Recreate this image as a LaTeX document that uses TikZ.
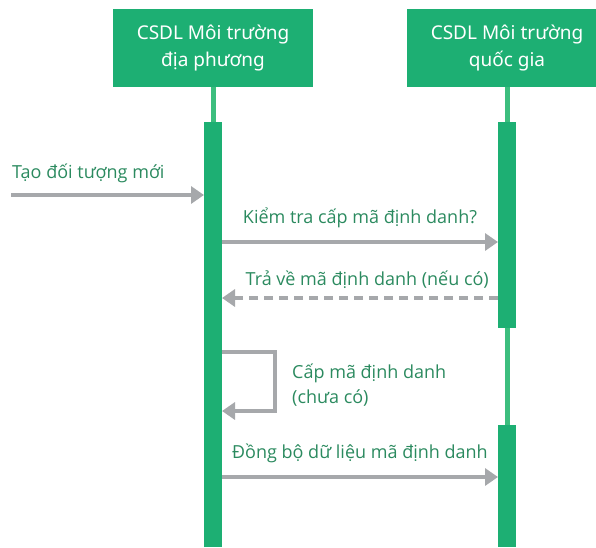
\documentclass[tikz,border=0pt]{standalone}
\usepackage{fontspec}
\setmainfont{Noto Sans}
\newfontfamily\labelfont{Open Sans}
\usetikzlibrary{arrows.meta}
\definecolor{boxgreen}{HTML}{1DAF73}
\definecolor{linegreen}{HTML}{3CBE7E}
\definecolor{textgreen}{HTML}{2B8A5F}
\definecolor{arrowgray}{HTML}{A6A8AB}
\tikzset{
  header/.style={fill=boxgreen, draw=none, minimum width=200pt, minimum height=78pt,
    text=white, align=center, font=\fontsize{19}{27.5}\selectfont, inner sep=0pt},
  lifeline/.style={draw=linegreen, line width=5pt},
  activebar/.style={fill=boxgreen, draw=none},
  msg/.style={draw=arrowgray, line width=4pt, -{Triangle[length=13pt,width=17pt]}},
  reply/.style={msg, dash pattern=on 9pt off 6pt},
  msglabel/.style={text=textgreen, font=\labelfont\fontsize{18}{25}\selectfont, inner sep=0pt}
}
\begin{document}
\begin{tikzpicture}[x=1pt, y=-1pt]
\useasboundingbox (0,0) rectangle (596,547);
\clip (0,0) rectangle (596,547);
% participants
\node[header] (loc) at (213,48) {CSDL Môi trường\\địa phương};
\node[header] (nat) at (507,48) {CSDL Môi trường\\quốc gia};
% lifelines
\draw[lifeline] (loc.south) -- (213,547);
\draw[lifeline] (nat.south) -- (507,547);
% activation bars
\path[activebar] (204,122) rectangle (222,547);
\path[activebar] (498,122) rectangle (516,328);
\path[activebar] (498,425) rectangle (516,547);
% anchor points on the bars
\coordinate (start) at (11,195);
\coordinate (l1) at (204,195);
\coordinate (l2) at (222,242);
\coordinate (r2) at (498,242);
\coordinate (r3) at (498,298);
\coordinate (l3) at (222,298);
\coordinate (s1) at (222,352);
\coordinate (s2) at (275,352);
\coordinate (s3) at (275,411);
\coordinate (l4) at (222,411);
\coordinate (l5) at (222,477);
\coordinate (r5) at (498,477);
% messages
\draw[msg] (start) -- (l1);
\node[msglabel, anchor=base west] (t1) at (12,178) {Tạo đối tượng mới};
\draw[msg] (l2) -- (r2);
\node[msglabel, anchor=base] (t2) at (360,223) {Kiểm tra cấp mã định danh?};
\draw[reply] (r3) -- (l3);
\node[msglabel, anchor=base east] (t3) at (489,285) {Trả về mã định danh (nếu có)};
\draw[draw=arrowgray, line width=4pt, -{Triangle[length=13pt,width=17pt]}] (s1) -- (s2) -- (s3) -- (l4);
\node[msglabel, anchor=base west, align=left] (t4) at (292,403) {Cấp mã định danh\\(chưa có)};
\draw[msg] (l5) -- (r5);
\node[msglabel, anchor=base west] (t5) at (232,458) {Đồng bộ dữ liệu mã định danh};
\end{tikzpicture}
\end{document}
